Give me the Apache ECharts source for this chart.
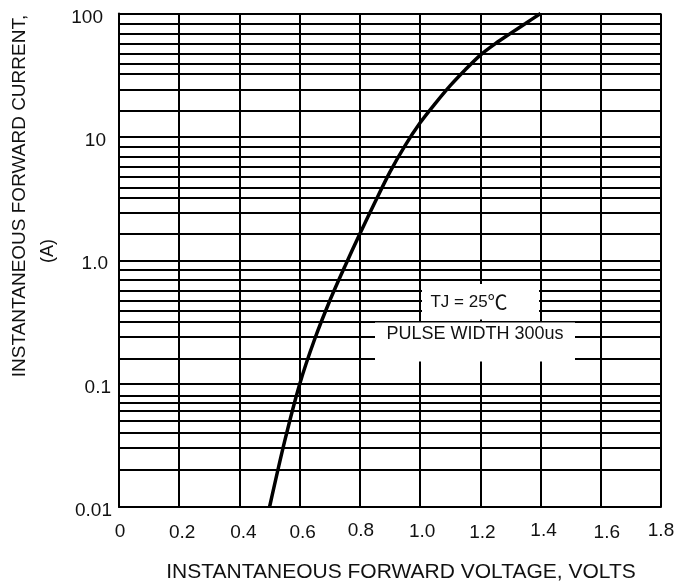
<!DOCTYPE html>
<html>
<head>
<meta charset="utf-8">
<script src="https://cdn.jsdelivr.net/npm/echarts@6/dist/echarts.min.js"></script>
<style>
html,body{margin:0;padding:0;background:#fff;}
#chart{width:692px;height:587px;}
</style>
</head>
<body>
<div id="chart"></div>
<script>
// ---- data ----
var voltage = [0.50, 0.55, 0.60, 0.65, 0.70, 0.75, 0.80, 0.85, 0.90, 0.95, 1.00, 1.05, 1.10, 1.15, 1.20, 1.25, 1.30, 1.35, 1.40];
var current = [0.01, 0.034, 0.099, 0.23, 0.47, 0.89, 1.64, 2.95, 5.2, 8.5, 13, 18.6, 26, 35, 46, 57, 69, 83, 100];

var xTickLabels = ['0', '0.2', '0.4', '0.6', '0.8', '1.0', '1.2', '1.4', '1.6', '1.8'];
var yTickLabels = ['0.01', '0.1', '1.0', '10', '100'];
var decades = [0.01, 0.1, 1, 10];
// minor grid-line multipliers as drawn within each decade in the reference
var minorMultipliers = [1.64, 2.42, 3.24, 3.90, 4.74, 5.71, 6.89, 8.30];

var xTitle = 'INSTANTANEOUS FORWARD VOLTAGE, VOLTS';
var yTitle1 = 'INSTANTANEOUS FORWARD CURRENT,';
var yTitle2 = '(A)';
var noteTj = 'TJ = 25';
var noteUnit = '\u2103';
var notePulse = 'PULSE WIDTH 300us';

// ---- build ----
var curve = voltage.map(function (v, i) { return [v, current[i]]; });
var minorLines = [];
decades.forEach(function (d) {
  minorMultipliers.forEach(function (m) { minorLines.push({ yAxis: d * m }); });
});

var FONT = '"Liberation Sans", Arial, sans-serif';
var TXT = '#111';

var xPad = [[2.5,2],[3,6],[3,8],[3,6],[0,2],[1,4],[3,4],[0,6],[3,12],[0,0]];
var xRich = {};
xPad.forEach(function (p, i) {
  xRich['x' + i] = { fontSize: 19, lineHeight: 19, fontFamily: FONT, color: TXT, padding: [p[0], 0, 0, p[1]] };
});
var yPadR = [0, 1, 4, 6, 9];
var yRich = {};
yPadR.forEach(function (p, i) {
  yRich['y' + i] = { fontSize: 19, lineHeight: 19, fontFamily: FONT, color: TXT, padding: [8, p, 0, 0] };
});

var chart = echarts.init(document.getElementById('chart'));
var lineSt = { color: '#000', width: 2 };

chart.setOption({
  animation: false,
  backgroundColor: '#fff',
  grid: { left: 119, top: 13, width: 542, height: 494, containLabel: false },
  xAxis: {
    type: 'value', min: 0, max: 1.8, interval: 0.2,
    axisLine: { show: true, lineStyle: lineSt },
    axisTick: { show: false },
    splitLine: { show: true, lineStyle: lineSt },
    axisLabel: {
      margin: 14.5,
      formatter: function (v) {
        var i = Math.round(v / 0.2);
        return '{x' + i + '|' + xTickLabels[i] + '}';
      },
      rich: xRich
    }
  },
  yAxis: {
    type: 'log', logBase: 10, min: 0.01, max: 100,
    axisLine: { show: true, lineStyle: lineSt },
    axisTick: { show: false },
    splitLine: { show: true, lineStyle: lineSt },
    minorSplitLine: { show: false },
    axisLabel: {
      margin: 7,
      formatter: function (v) {
        var i = Math.round(Math.log10(v)) + 2;
        return '{y' + i + '|' + yTickLabels[i] + '}';
      },
      rich: yRich
    }
  },
  series: [
    {
      type: 'line', data: [], silent: true, z: 1,
      markLine: {
        z: 1, silent: true, symbol: 'none', animation: false,
        label: { show: false },
        lineStyle: { color: '#000', width: 2, type: 'solid' },
        emphasis: { disabled: true },
        data: minorLines
      }
    },
    {
      type: 'line', data: curve, smooth: 0.3, showSymbol: false, z: 10,
      lineStyle: { color: '#000', width: 3.5 },
      itemStyle: { color: '#000' }
    }
  ],
  graphic: [
    { type: 'rect', z: 100, shape: { x: 422, y: 284, width: 117, height: 35.5 }, style: { fill: '#fff' } },
    { type: 'rect', z: 100, shape: { x: 375, y: 322.5, width: 200, height: 39 }, style: { fill: '#fff' } },
    { type: 'text', z: 101, x: 469, y: 302, style: {
        text: '{a|' + noteTj + '}{b|' + noteUnit + '}', align: 'center', verticalAlign: 'middle',
        rich: {
          a: { fontSize: 17, fontFamily: FONT, fill: TXT, color: TXT },
          b: { fontSize: 20, fontFamily: '"Noto Sans CJK SC", "Noto Sans CJK JP", sans-serif', fill: TXT, color: TXT }
        } } },
    { type: 'text', z: 101, x: 475, y: 334, style: { text: notePulse, font: '18px ' + FONT, fill: TXT, align: 'center', verticalAlign: 'middle' } },
    { type: 'text', z: 101, x: 401, y: 572.5, style: { text: xTitle, font: '21px ' + FONT, fill: TXT, align: 'center', verticalAlign: 'middle' } },
    { type: 'text', z: 101, x: 20, y: 196, rotation: Math.PI / 2, style: { text: yTitle1, font: '19px ' + FONT, fill: TXT, align: 'center', verticalAlign: 'middle' } },
    { type: 'text', z: 101, x: 48, y: 251, rotation: Math.PI / 2, style: { text: yTitle2, font: '18px ' + FONT, fill: TXT, align: 'center', verticalAlign: 'middle' } }
  ]
});
</script>
</body>
</html>
